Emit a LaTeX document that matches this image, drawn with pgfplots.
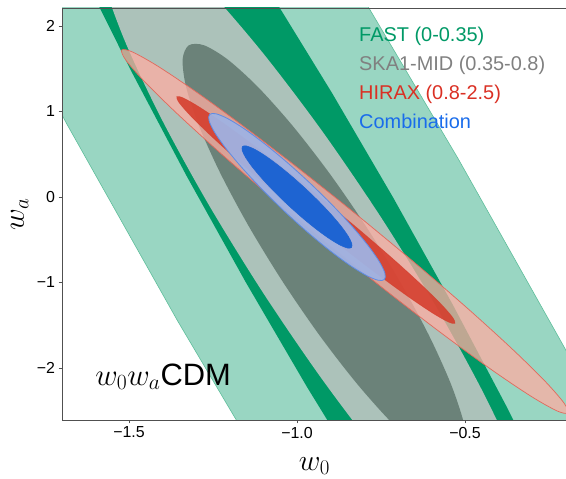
\RequirePackage{fix-cm}
\documentclass[border=0pt]{standalone}
\usepackage{fontspec}
\setmainfont{Liberation Sans}
\usepackage{pgfplots}
\pgfplotsset{compat=1.18}

\definecolor{fastdark}{RGB}{0,153,102}
\definecolor{fastlight}{RGB}{153,214,194}
\definecolor{fastedge}{RGB}{95,190,155}
\definecolor{skaout}{RGB}{172,194,186}
\definecolor{skain}{RGB}{107,130,121}
\definecolor{hirout}{RGB}{254,173,162}
\definecolor{hiroutedge}{RGB}{225,105,92}
\definecolor{hirin}{RGB}{213,56,39}
\definecolor{combout}{RGB}{160,178,226}
\definecolor{comboutedge}{RGB}{95,140,228}
\definecolor{combin}{RGB}{30,100,210}
\definecolor{txtfast}{RGB}{0,153,102}
\definecolor{txtska}{RGB}{128,128,128}
\definecolor{txthir}{RGB}{218,48,36}
\definecolor{txtcomb}{RGB}{25,108,235}
\definecolor{spine}{RGB}{80,80,80}

\begin{document}
\begin{tikzpicture}
\useasboundingbox (-62bp,-59bp) rectangle (504bp,420bp);
\begin{axis}[
  at={(0,0)}, anchor=south west,
  scale only axis, width=505bp, height=412bp,
  xmin=-1.6994, xmax=-0.1964, ymin=-2.6082, ymax=2.2105,
  axis on top,
  axis line style={spine, line width=0.9bp},
  xtick={-1.5,-1,-0.5}, xticklabels={−1.5,−1.0,−0.5},
  ytick={-2,-1,0,1,2}, yticklabels={−2,−1,0,1,2},
  tick align=outside, tick pos=left, major tick length=3.5bp,
  tick style={spine, line width=0.8bp},
  ticklabel style={font=\fontsize{16}{16}\selectfont},
  xlabel={$w_0$}, ylabel={$w_a$},
  label style={font=\fontsize{30}{30}\selectfont, inner sep=0pt},
  xlabel style={at={(axis description cs:0.5,-0.112)}, anchor=center},
  ylabel style={at={(axis description cs:-0.084,0.5)}, anchor=center},
]
% FAST outer (light)
\addplot[fill=fastlight, draw=fastedge, line width=0.6bp] coordinates {
(0.6259,-8.2411) (0.3914,-6.2663) (0.1165,-4.1163) (-0.1904,-1.8565) (-0.5199,0.4444)
(-0.8622,2.7165) (-1.2067,4.8907) (-1.5432,6.9011) (-1.8611,8.6865)
(-2.5009,7.2351) (-2.2664,5.2603) (-1.9915,3.1103) (-1.6846,0.8505) (-1.3551,-1.4504)
(-1.0128,-3.7225) (-0.6683,-5.8967) (-0.3318,-7.9071) (-0.0139,-9.6925)
} -- cycle;
% FAST inner (dark)
\addplot[fill=fastdark, draw=none] coordinates {
(-0.1012,-4.6967) (-0.2266,-3.6321) (-0.3734,-2.4723) (-0.5373,-1.2527) (-0.7133,-0.0104)
(-0.8959,1.2171) (-1.0796,2.3921) (-1.2588,3.4793) (-1.4282,4.4455)
(-1.7648,3.6907) (-1.6394,2.6261) (-1.4926,1.4663) (-1.3287,0.2467) (-1.1527,-0.9956)
(-0.9701,-2.2231) (-0.7864,-3.3981) (-0.6072,-4.4853) (-0.4378,-5.4515)
} -- cycle;
% SKA1-MID outer
\addplot[fill=skaout, draw=none, smooth cycle] coordinates {
(-0.2773,-4.6021) (-0.2542,-4.3531) (-0.2767,-3.8536) (-0.3436,-3.1376) (-0.4501,-2.2542)
(-0.5890,-1.2632) (-0.7509,-0.2325) (-0.9246,0.7678) (-1.0985,1.6696) (-1.2604,2.4114)
(-1.3997,2.9426) (-1.5066,3.2271) (-1.5739,3.2453) (-1.5970,2.9963) (-1.5745,2.4968)
(-1.5076,1.7808) (-1.4011,0.8974) (-1.2622,-0.0936) (-1.1003,-1.1243) (-0.9266,-2.1246)
(-0.7527,-3.0264) (-0.5908,-3.7682) (-0.4515,-4.2994) (-0.3446,-4.5839)
};
% SKA1-MID inner
\addplot[fill=skain, draw=none, smooth cycle] coordinates {
(-0.5115,-3.1310) (-0.4930,-2.9650) (-0.5034,-2.6432) (-0.5419,-2.1875) (-0.6060,-1.6289)
(-0.6912,-1.0056) (-0.7919,-0.3599) (-0.9010,0.2640) (-1.0112,0.8237) (-1.1149,1.2811)
(-1.2052,1.6048) (-1.2758,1.7730) (-1.3219,1.7742) (-1.3404,1.6082) (-1.3300,1.2864)
(-1.2915,0.8307) (-1.2274,0.2721) (-1.1422,-0.3512) (-1.0415,-0.9969) (-0.9324,-1.6208)
(-0.8222,-2.1805) (-0.7185,-2.6379) (-0.6282,-2.9616) (-0.5576,-3.1296)
};
% HIRAX outer
\addplot[fill=hirout, fill opacity=0.75, draw=hiroutedge, line width=0.7bp, smooth cycle] coordinates {
(-0.1935,-2.5263) (-0.2061,-2.4059) (-0.2632,-2.1489) (-0.3608,-1.7731) (-0.4921,-1.3038)
(-0.6485,-0.7732) (-0.8191,-0.2175) (-0.9923,0.3256) (-1.1563,0.8190) (-1.3000,1.2291)
(-1.4134,1.5279) (-1.4891,1.6951) (-1.5217,1.7193) (-1.5091,1.5989) (-1.4520,1.3419)
(-1.3544,0.9661) (-1.2231,0.4968) (-1.0667,-0.0338) (-0.8961,-0.5895) (-0.7229,-1.1326)
(-0.5589,-1.6260) (-0.4152,-2.0361) (-0.3018,-2.3349) (-0.2261,-2.5021)
};
% HIRAX inner
\addplot[fill=hirin, fill opacity=0.85, draw=hirin, draw opacity=0.6, line width=0.5bp, smooth cycle] coordinates {
(-0.5298,-1.4771) (-0.5378,-1.4027) (-0.5736,-1.2429) (-0.6345,-1.0088) (-0.7165,-0.7164)
(-0.8140,-0.3855) (-0.9204,-0.0386) (-1.0284,0.3005) (-1.1307,0.6088) (-1.2201,0.8652)
(-1.2908,1.0523) (-1.3378,1.1573) (-1.3580,1.1731) (-1.3500,1.0987) (-1.3142,0.9389)
(-1.2533,0.7048) (-1.1713,0.4124) (-1.0738,0.0815) (-0.9674,-0.2654) (-0.8594,-0.6045)
(-0.7571,-0.9128) (-0.6677,-1.1692) (-0.5970,-1.3563) (-0.5500,-1.4613)
};
% Combination outer
\addplot[fill=combout, fill opacity=0.95, draw=comboutedge, line width=0.8bp, smooth cycle] coordinates {
(-0.7396,-0.9649) (-0.7385,-0.8902) (-0.7551,-0.7548) (-0.7885,-0.5680) (-0.8362,-0.3425)
(-0.8951,-0.0935) (-0.9612,0.1617) (-1.0299,0.4059) (-1.0966,0.6225) (-1.1567,0.7966)
(-1.2061,0.9164) (-1.2415,0.9738) (-1.2604,0.9649) (-1.2615,0.8902) (-1.2449,0.7548)
(-1.2115,0.5680) (-1.1638,0.3425) (-1.1049,0.0935) (-1.0388,-0.1617) (-0.9701,-0.4059)
(-0.9034,-0.6225) (-0.8433,-0.7966) (-0.7939,-0.9164) (-0.7585,-0.9738)
};
% Combination inner
\addplot[fill=combin, draw=combin, line width=0.5bp, smooth cycle] coordinates {
(-0.8378,-0.5906) (-0.8370,-0.5439) (-0.8474,-0.4600) (-0.8681,-0.3448) (-0.8979,-0.2061)
(-0.9346,-0.0535) (-0.9757,0.1029) (-1.0186,0.2523) (-1.0601,0.3845) (-1.0975,0.4904)
(-1.1284,0.5630) (-1.1504,0.5971) (-1.1622,0.5906) (-1.1630,0.5439) (-1.1526,0.4600)
(-1.1319,0.3448) (-1.1021,0.2061) (-1.0654,0.0535) (-1.0243,-0.1029) (-0.9814,-0.2523)
(-0.9399,-0.3845) (-0.9025,-0.4904) (-0.8716,-0.5630) (-0.8496,-0.5971)
};
% legend texts
\node[anchor=base west, text=txtfast, font=\fontsize{20}{20}\selectfont, inner sep=0pt] at (axis cs:-0.8155,1.816) {FAST (0-0.35)};
\node[anchor=base west, text=txtska, font=\fontsize{20}{20}\selectfont, inner sep=0pt] at (axis cs:-0.8155,1.477) {SKA1-MID (0.35-0.8)};
\node[anchor=base west, text=txthir, font=\fontsize{20}{20}\selectfont, inner sep=0pt] at (axis cs:-0.8155,1.143) {HIRAX (0.8-2.5)};
\node[anchor=base west, text=txtcomb, font=\fontsize{20}{20}\selectfont, inner sep=0pt] at (axis cs:-0.8155,0.799) {Combination};
% model label
\node[anchor=base west, font=\fontsize{31}{31}\selectfont, inner sep=0pt] at (axis cs:-1.601,-2.199) {$w_0w_a$CDM};
\end{axis}
\end{tikzpicture}
\end{document}
